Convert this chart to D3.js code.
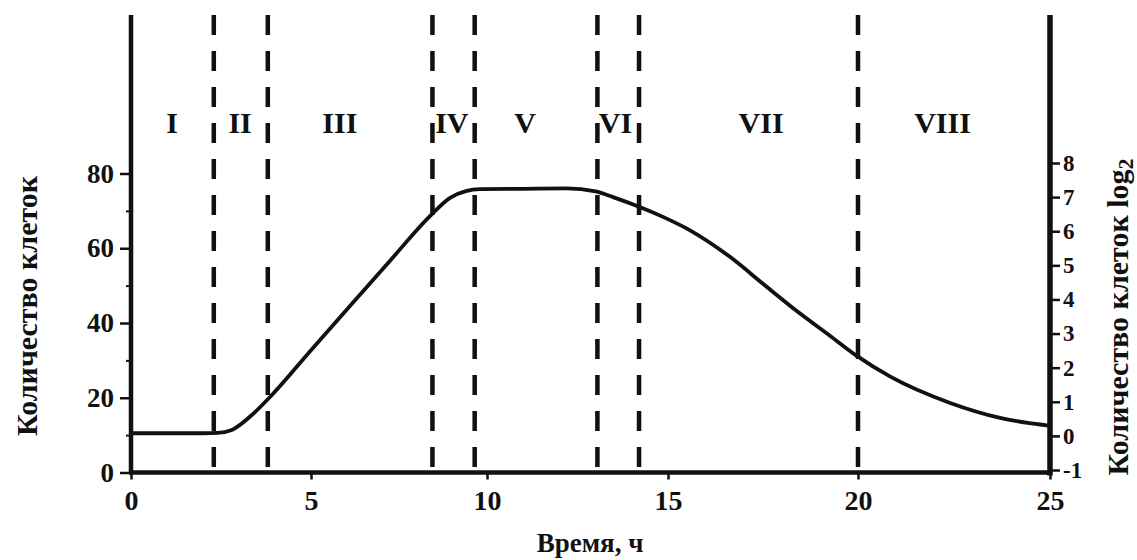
<!DOCTYPE html>
<html>
<head>
<meta charset="utf-8">
<script src="https://cdn.jsdelivr.net/npm/d3@7"></script>
<style>
  html, body { margin: 0; padding: 0; background: #fff; }
  svg { display: block; }
  text { font-family: "Liberation Serif", "DejaVu Serif", serif; font-weight: bold; fill: #111; }
</style>
</head>
<body>
<svg id="chart" width="1137" height="560"></svg>
<script>
// ---- data ----
const timeH = [0, 1, 2, 2.4, 2.8, 3.3, 3.86, 4.97, 6.1, 7.24, 8.38, 8.95, 9.4, 9.8, 11, 12.2, 13.0, 13.5, 14.2, 14.86, 15.58, 16.63, 17.5, 18.39, 19.26, 19.97, 20.83, 22.4, 23.7, 25];
const cellCount = [10.5, 10.5, 10.5, 10.6, 11.4, 14.9, 20.2, 32.4, 44.5, 56.6, 68.6, 73.5, 75.3, 75.8, 75.9, 76.0, 75.2, 73.6, 71.1, 68.4, 64.8, 57.7, 50.5, 43.2, 36.6, 31.2, 25.7, 18.6, 14.6, 12.5];
const phaseBounds = [2.3, 3.8, 8.45, 9.65, 13.05, 14.2, 20];
const phaseNames = ["I", "II", "III", "IV", "V", "VI", "VII", "VIII"];
const phaseLabelTimes = [1.14, 3.03, 5.82, 9.0, 11.05, 13.55, 17.45, 22.2];
const xTicks = [0, 5, 10, 15, 20, 25];
const yTicks = [0, 20, 40, 60, 80];
const yMinorTicks = [10, 30, 50, 70];
const log2Ticks = [-1, 0, 1, 2, 3, 4, 5, 6, 7, 8];
const log2TickLabels = ["-1", "0", "1", "2", "3", "4", "5", "6", "7", "8"];
const xTitle = "Время, ч";
const yTitle = "Количество клеток";
const y2Title = "Количество клеток log";

// ---- layout ----
const svg = d3.select("#chart");
const topY = 15;
const x = d3.scaleLinear().domain(xTicks).range([131, 311, 487, 668, 858, 1050]);
const y = d3.scaleLinear().domain([0, 80]).range([472.5, 173.5]);
const y2 = d3.scaleLinear().domain([-1, 8]).range([470, 163]);
const x0 = x(0), x1 = x(25), yb = y(0);

// dashed phase lines
svg.append("g").selectAll("line").data(phaseBounds).join("line")
  .attr("x1", d => x(d)).attr("x2", d => x(d))
  .attr("y1", topY).attr("y2", yb)
  .attr("stroke", "#111").attr("stroke-width", 4.5)
  .attr("stroke-dasharray", "20,16");

// phase labels
svg.append("g").selectAll("text").data(phaseNames).join("text")
  .attr("x", (d, i) => x(phaseLabelTimes[i]))
  .attr("y", 122)
  .attr("text-anchor", "middle")
  .attr("dominant-baseline", "central")
  .attr("font-size", 30)
  .text(d => d);

// left axis
const gL = svg.append("g").attr("transform", `translate(${x0},0)`)
  .call(d3.axisLeft(y).tickValues(yTicks).tickSize(11).tickPadding(6));
gL.select(".domain").remove();
gL.selectAll(".tick line").attr("stroke", "#111").attr("stroke-width", 2.5);
gL.selectAll(".tick text").attr("font-size", 27).attr("font-family", null).attr("fill", "#111");
svg.append("g").attr("transform", `translate(${x0},0)`)
  .call(d3.axisLeft(y).tickValues(yMinorTicks).tickSize(5).tickFormat(""))
  .call(g => g.select(".domain").remove())
  .selectAll(".tick line").attr("stroke", "#111").attr("stroke-width", 2);

// right axis
const gR = svg.append("g").attr("transform", `translate(${x1},0)`)
  .call(d3.axisRight(y2).tickValues(log2Ticks).tickSize(10).tickPadding(3)
    .tickFormat((d, i) => log2TickLabels[i]));
gR.select(".domain").remove();
gR.selectAll(".tick line").attr("stroke", "#111").attr("stroke-width", 2.5);
gR.selectAll(".tick text").attr("font-size", 23).attr("font-family", null).attr("fill", "#111");

// bottom axis
const gB = svg.append("g").attr("transform", `translate(0,${yb})`)
  .call(d3.axisBottom(x).tickValues(xTicks).tickSize(7).tickPadding(11));
gB.select(".domain").remove();
gB.selectAll(".tick line").attr("stroke", "#111").attr("stroke-width", 2.5);
gB.selectAll(".tick text").attr("font-size", 28).attr("font-family", null).attr("fill", "#111");

// axis lines
svg.append("line").attr("x1", x0).attr("x2", x0).attr("y1", topY).attr("y2", yb + 1)
  .attr("stroke", "#111").attr("stroke-width", 4.5);
svg.append("line").attr("x1", x1).attr("x2", x1).attr("y1", topY).attr("y2", yb + 3)
  .attr("stroke", "#111").attr("stroke-width", 5.5);
svg.append("line").attr("x1", x0 - 2).attr("x2", x1 + 2).attr("y1", yb).attr("y2", yb)
  .attr("stroke", "#111").attr("stroke-width", 4.5);

// curve
const line = d3.line().x((d, i) => x(timeH[i])).y(d => y(d)).curve(d3.curveMonotoneX);
svg.append("path").datum(cellCount)
  .attr("d", line)
  .attr("fill", "none").attr("stroke", "#111").attr("stroke-width", 3.8)
  .attr("stroke-linejoin", "round");

// titles
svg.append("text").attr("x", 590).attr("y", 552)
  .attr("text-anchor", "middle")
  .attr("font-size", 27).text(xTitle);
svg.append("text").attr("transform", "translate(26,306) rotate(-90)")
  .attr("text-anchor", "middle").attr("dominant-baseline", "central")
  .attr("font-size", 30).text(yTitle);
const t2 = svg.append("text").attr("transform", "translate(1117,317) rotate(-90)")
  .attr("text-anchor", "middle").attr("dominant-baseline", "central")
  .attr("font-size", 30);
t2.append("tspan").text(y2Title);
t2.append("tspan").attr("dy", 8).attr("font-size", 22).text("2");
</script>
</body>
</html>
